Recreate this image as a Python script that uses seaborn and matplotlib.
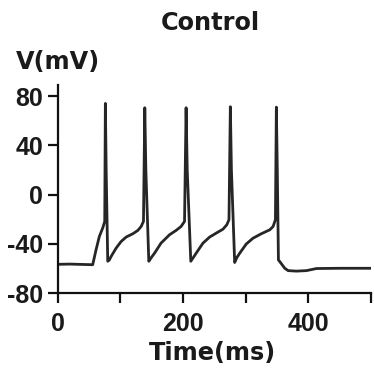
import matplotlib
matplotlib.use("Agg")
import matplotlib.pyplot as plt
import seaborn as sns
import pandas as pd
from matplotlib.ticker import FixedLocator

# Membrane potential trace
time_ms = [0, 20, 40, 56, 61.3, 66.6, 72, 75.2, 76.2, 77.5, 80, 82.6,
           85.3, 93.3, 101.3, 109.3, 120, 128, 133.3, 137, 139.1, 140.8, 145.5,
           149.5, 154.6, 165, 178.6, 189, 197, 202.5, 205, 206.8, 212.5,
           216.5, 221, 231.9, 242.5, 253, 263.8, 270, 273.4, 275.6, 277.3, 282.5,
           286, 290.5, 301, 311.8, 325, 338.5, 343.8, 347.5, 349, 350.5, 352.3,
           357, 362.4, 367.8, 381, 397, 413, 450, 500]
voltage_mv = [-56.5, -56.3, -56.6, -56.8, -44.8, -33.9, -27, -21.7, 74, 20, -54, -52.9,
              -50.2, -43.4, -38.0, -34.4, -31.7, -29.0, -25.8, -21.7, 70.5, 20, -54,
              -51, -47.5, -39.3, -32.5, -29, -25.8, -21.7, 70.5, 20, -54,
              -51, -47.5, -39.3, -34.4, -31.2, -28, -24.4, -20.3, 71.3, 20, -55,
              -51, -47.5, -40, -35.3, -31.7, -28.5, -25.8, -20.3, 71, 20, -52.9,
              -56, -59.7, -61.6, -62, -61.6, -59.9, -59.7, -59.7]

x_major = [0, 200, 400]
x_minor = [100, 300, 500]
y_ticks = [-80, -40, 0, 40, 80]

title = "Control"
x_label = "Time(ms)"
y_label = "V(mV)"

df = pd.DataFrame({"t": time_ms, "v": voltage_mv})

sns.set_style("ticks")
plt.rcParams["font.family"] = ["Liberation Sans", "DejaVu Sans"]
plt.rcParams["font.weight"] = "bold"

fig = plt.figure(figsize=(3.74, 3.71), dpi=100)
ax = fig.add_axes([0.154, 0.2094, 0.838, 0.5617])

sns.lineplot(data=df, x="t", y="v", ax=ax, color="#262626", linewidth=2.0,
             sort=False, estimator=None)

ax.set_xlim(0, 500)
ax.set_ylim(-80, 89)
ax.xaxis.set_major_locator(FixedLocator(x_major))
ax.xaxis.set_minor_locator(FixedLocator(x_minor))
ax.yaxis.set_major_locator(FixedLocator(y_ticks))
ax.set_xticklabels([str(v) for v in x_major])
ax.set_yticklabels([str(v) for v in y_ticks])

for side in ["top", "right"]:
    ax.spines[side].set_visible(False)
for side in ["left", "bottom"]:
    ax.spines[side].set_linewidth(1.6)
    ax.spines[side].set_color("#111111")

ax.tick_params(axis="both", which="both", length=7.5, width=1.6,
               color="#111111", labelsize=18, pad=3)
ax.tick_params(axis="x", which="both", pad=6)
for lab in ax.get_xticklabels() + ax.get_yticklabels():
    lab.set_fontweight("bold")
    lab.set_color("#1a1a1a")

ax.set_xlabel("")
ax.set_ylabel("")

label_font = dict(family=["DejaVu Sans"], fontsize=17.3, fontweight="bold",
                  color="#1a1a1a")
fig.text(0.5615, 1 - 30 / 371, title, ha="center", va="baseline", **label_font)
fig.text(0.156, 1 - 69 / 371, y_label, ha="center", va="baseline", **label_font)
fig.text(0.567, 1 - 360 / 371, x_label, ha="center", va="baseline", **label_font)

fig.savefig("out.png", dpi=100)
